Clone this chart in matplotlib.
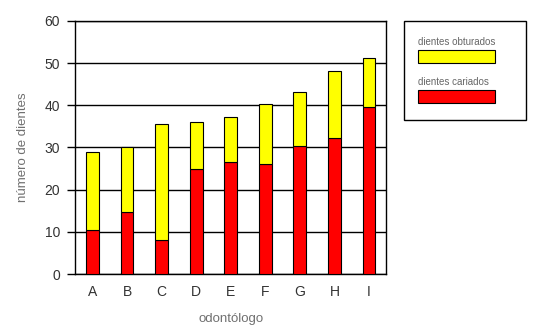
import matplotlib
matplotlib.use("Agg")
import matplotlib.pyplot as plt
from matplotlib.patches import Rectangle
import numpy as np

categories = ["A", "B", "C", "D", "E", "F", "G", "H", "I"]
cariados = [10.4, 14.8, 8.1, 25.0, 26.5, 26.1, 30.4, 32.3, 39.5]
totales = [28.9, 30.1, 35.6, 36.0, 37.2, 40.2, 43.2, 48.2, 51.1]
obturados = [t - c for t, c in zip(totales, cariados)]
yticks = [0, 10, 20, 30, 40, 50, 60]

plt.rcParams['font.family'] = ['Liberation Sans', 'DejaVu Sans']
tickgray = '#333333'
labelgray = '#707070'

fig = plt.figure(figsize=(5.41, 3.31), dpi=100)
ax = fig.add_axes([0.139, 0.172, 0.575, 0.765])
x = np.arange(len(categories))
w = 0.37
ax.bar(x, cariados, w, color='#ff0000', edgecolor='#000000', linewidth=0.8, zorder=3)
ax.bar(x, obturados, w, bottom=cariados, color='#ffff00', edgecolor='#000000', linewidth=0.8, zorder=3)
ax.set_xlim(-0.5, len(categories) - 0.5)
ax.set_ylim(0, 60)
ax.set_yticks(yticks)
ax.yaxis.grid(True, color='black', linewidth=1.0, zorder=0)
ax.set_axisbelow(True)
ax.set_xticks(x)
ax.set_xticklabels(categories)
ax.tick_params(axis='x', length=0, pad=8, labelsize=10, labelcolor=tickgray)
ax.tick_params(axis='y', length=6, width=1, pad=5, labelsize=10, labelcolor=tickgray)
for s in ax.spines.values():
    s.set_linewidth(1.0)
    s.set_color('black')
ax.set_xlabel('odontólogo', color=labelgray, fontsize=9.5, labelpad=10)
ax.set_ylabel('número de dientes', color=labelgray, fontsize=9.5, labelpad=11)

# custom legend
lx0, ly0, lw, lh = 404 / 541, 1 - 120 / 331, 122 / 541, 99 / 331
fig.patches.append(Rectangle((lx0, ly0), lw, lh, transform=fig.transFigure,
                             facecolor='white', edgecolor='black', linewidth=1.0))
fig.text(418 / 541, 1 - 42 / 331, 'dientes obturados', fontsize=7, color='#666666', va='center')
fig.patches.append(Rectangle((418 / 541, 1 - 63 / 331), 77 / 541, 13 / 331, transform=fig.transFigure,
                             facecolor='#ffff00', edgecolor='black', linewidth=0.8))
fig.text(418 / 541, 1 - 82 / 331, 'dientes cariados', fontsize=7, color='#666666', va='center')
fig.patches.append(Rectangle((418 / 541, 1 - 103 / 331), 77 / 541, 13 / 331, transform=fig.transFigure,
                             facecolor='#ff0000', edgecolor='black', linewidth=0.8))

fig.savefig('out.png', dpi=100)
